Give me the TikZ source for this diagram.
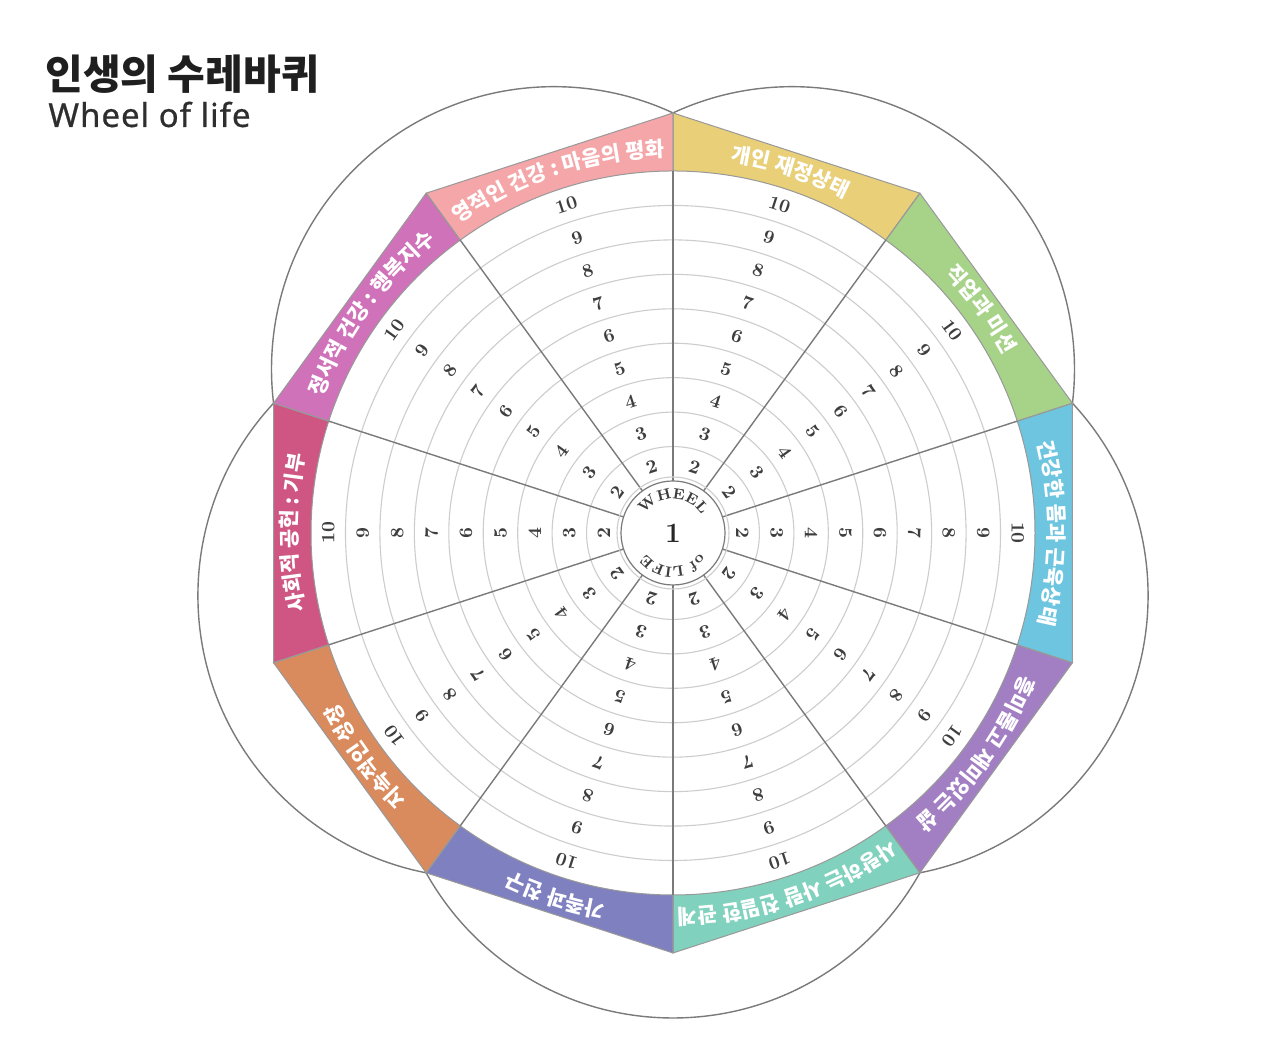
\documentclass[tikz,border=0pt]{standalone}
\usepackage{fontspec}
\newfontfamily\kr{Noto Sans CJK KR}
\newfontfamily\lsans{Noto Sans}[FakeBold=0.7, LetterSpace=3]
\usetikzlibrary{decorations.text}
\definecolor{pinkA}{HTML}{F4A6A8}
\definecolor{yellowA}{HTML}{E8CF78}
\definecolor{greenA}{HTML}{A7D389}
\definecolor{blueA}{HTML}{6EC5E0}
\definecolor{purpleA}{HTML}{A27FC2}
\definecolor{tealA}{HTML}{80D1BD}
\definecolor{indigoA}{HTML}{7F80C0}
\definecolor{orangeA}{HTML}{D98B5D}
\definecolor{roseA}{HTML}{CF5682}
\definecolor{magentaA}{HTML}{CF72BA}
\definecolor{numgray}{HTML}{3E3E3E}
\definecolor{linegray}{HTML}{7A7A7A}
\definecolor{ringgray}{HTML}{CDCDCD}
\tikzset{
  bigcirc/.style={draw=linegray, line width=0.7pt},
  bandshape/.style={draw=black!40, line width=0.5pt},
  ringline/.style={draw=ringgray, line width=0.55pt},
  sectline/.style={draw=linegray, line width=0.7pt},
  numst/.style={font=\rmfamily\bfseries\fontsize{9.5}{10}\selectfont, text=numgray, inner sep=0pt},
  bandtxt/.style={decorate, decoration={text along path, text align=center,
      text={|\kr\bfseries\fontsize{10.5}{12}\selectfont\color{white}|#1}}},
  hubtxt/.style={decorate, decoration={text along path, text align=center,
      text={|\rmfamily\bfseries\fontsize{7.5}{8}\selectfont\color{numgray}|#1}}}
}
\begin{document}
\begin{tikzpicture}[x=0.5pt,y=0.5pt]
\useasboundingbox (0,0) rectangle (1282,1052);
\fill[white] (0,0) rectangle (1282,1052);
\coordinate (C) at (673,519);
\begin{scope}[shift={(C)}]
  % outer flower circles
  \foreach \a in {126,54,-18,-90,198}
    \draw[bigcirc] (\a:202.6) circle[radius=282.4];
  % white decagon
  \fill[white] (90:420) -- (126:420) -- (162:420) -- (198:420) -- (234:420)
     -- (270:420) -- (306:420) -- (342:420) -- (18:420) -- (54:420) -- cycle;
  % coloured bands
  \foreach \t/\c in {108/pinkA,72/yellowA,36/greenA,0/blueA,-36/purpleA,-72/tealA,-108/indigoA,-144/orangeA,180/roseA,144/magentaA}{
    \pgfmathsetmacro\ta{\t+18}
    \pgfmathsetmacro\tb{\t-18}
    \fill[fill=\c] (\ta:420) -- (\tb:420) -- (\tb:362)
       arc[start angle=\tb, end angle=\ta, radius=362] -- cycle;
  }
  \foreach \t in {108,72,36,0,-36,-72,-108,-144,180,144}{
    \pgfmathsetmacro\ta{\t+18}
    \pgfmathsetmacro\tb{\t-18}
    \draw[bandshape] (\ta:420) -- (\tb:420) -- (\tb:362)
       arc[start angle=\tb, end angle=\ta, radius=362] -- cycle;
  }
  % rings
  \foreach \j in {2,...,9}{
    \pgfmathsetmacro\rr{52+34.44*(\j-1)}
    \draw[ringline] (0,0) circle[radius=\rr];
  }
  % sector lines
  \foreach \a in {90,126,162,198,234,270,306,342,18,54}
    \draw[sectline] (\a:52) -- (\a:362);
  % hub
  \filldraw[fill=white, draw=linegray, line width=0.6pt] (0,0) circle[radius=52];
  \draw[ringline] (0,0) circle[radius=56];
  \node[font=\rmfamily\bfseries\fontsize{14}{16}\selectfont, text=black!85, inner sep=0pt] (one) at (0,0) {1};
  \path[hubtxt=WHEEL] (165:34) arc[start angle=165, end angle=15, radius=34];
  \path[hubtxt={of LIFE}] (-15:34) arc[start angle=-15, end angle=-165, radius=34];
  % numbers
  \foreach \t in {108,72,36,0,-36,-72,-108,-144,180,144}{
    \foreach \j in {2,...,10}{
      \pgfmathsetmacro\r{52+34.44*(\j-1.5)}
      \pgfmathsetmacro\rot{\t-90}
      \node[numst, rotate=\rot] (n\t-\j) at (\t:\r) {\j};
    }
  }
  % band labels
  \path[bandtxt={영적인 건강 : 마음의 평화}] (138:376) arc[start angle=138, end angle=78, radius=376];
  \path[bandtxt={개인 재정상태}] (102:376) arc[start angle=102, end angle=42, radius=376];
  \path[bandtxt={직업과 미션}] (66:376) arc[start angle=66, end angle=6, radius=376];
  \path[bandtxt={건강한 몸과 근육상태}] (30:376) arc[start angle=30, end angle=-30, radius=376];
  \path[bandtxt={흥미롭고 재미있는 삶}] (-6:376) arc[start angle=-6, end angle=-66, radius=376];
  \path[bandtxt={사랑하는 사람 친밀한 관계}] (-42:376) arc[start angle=-42, end angle=-102, radius=376];
  \path[bandtxt={가족과 친구}] (-78:376) arc[start angle=-78, end angle=-138, radius=376];
  \path[bandtxt={지속적인 성장}] (-114:376) arc[start angle=-114, end angle=-174, radius=376];
  \path[bandtxt={사회적 공헌 : 기부}] (210:376) arc[start angle=210, end angle=150, radius=376];
  \path[bandtxt={정서적 건강 : 행복지수}] (174:376) arc[start angle=174, end angle=114, radius=376];
\end{scope}
% title
\node[anchor=base west, inner sep=0pt, font=\kr\bfseries\fontsize{20.5}{24}\selectfont, text=black!88] (title) at (45,962) {인생의 수레바퀴};
\node[anchor=base west, inner sep=0pt, font=\lsans\fontsize{16.5}{20}\selectfont, text=black!82] (subtitle) at (48,925) {Wheel of life};
\end{tikzpicture}
\end{document}
